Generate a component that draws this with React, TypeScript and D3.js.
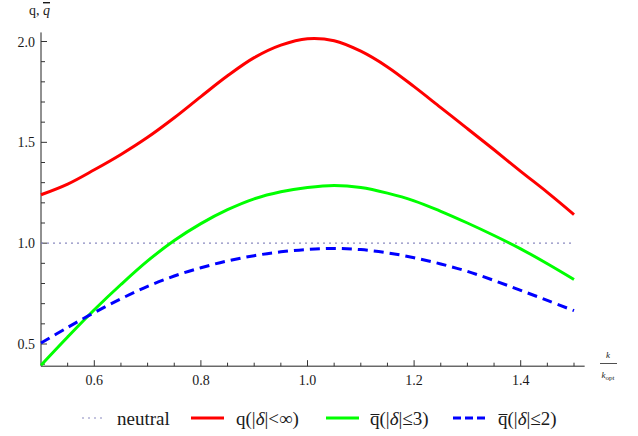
import { useEffect, useRef } from 'react';
import * as d3 from 'd3';

// k / k_opt sample points
const ratio = [0.5, 0.55, 0.6, 0.65, 0.7, 0.75, 0.8, 0.85, 0.9, 0.95, 1.0, 1.05, 1.1, 1.15, 1.2, 1.25, 1.3, 1.35, 1.4, 1.45, 1.5];
// q(|δ|<∞)
const qInf = [1.24, 1.293, 1.364, 1.44, 1.525, 1.622, 1.727, 1.83, 1.92, 1.982, 2.014, 2.004, 1.952, 1.874, 1.776, 1.672, 1.568, 1.463, 1.356, 1.252, 1.142];
// q̄(|δ|≤3)
const qBar3 = [0.395, 0.535, 0.67, 0.795, 0.912, 1.013, 1.097, 1.166, 1.22, 1.255, 1.276, 1.286, 1.276, 1.248, 1.21, 1.158, 1.1, 1.038, 0.972, 0.898, 0.82];
// q̄(|δ|≤2)
const qBar2 = [0.505, 0.582, 0.656, 0.724, 0.786, 0.837, 0.878, 0.912, 0.938, 0.957, 0.969, 0.974, 0.968, 0.952, 0.928, 0.897, 0.86, 0.815, 0.766, 0.716, 0.665];
const neutral = [1.0, 1.0];
const neutralX = [0.5, 1.5];

const xTicks = [0.6, 0.8, 1.0, 1.2, 1.4];
const yTicks = [0.5, 1.0, 1.5, 2.0];

const FONT = 'Liberation Serif';

const App = () => {
  const svgRef = useRef<SVGSVGElement>(null);

  useEffect(() => {
    const width = 638;
    const height = 436;
    const svg = d3.select(svgRef.current);
    svg.selectAll('*').remove();
    svg.attr('width', width).attr('height', height);

    const x = d3.scaleLinear().domain([0.5, 1.5]).range([41, 574]);
    const y = d3.scaleLinear().domain([0.5, 2.0]).range([344, 41.5]);

    const axisY = y(0.39);
    const g = svg.append('g');
    const txt = (parent, x0, y0, size) =>
      parent.append('text')
        .attr('x', x0).attr('y', y0)
        .attr('font-family', FONT)
        .attr('font-size', size)
        .attr('fill', '#1a1a1a');

    // axes
    g.append('line')
      .attr('x1', x(0.5)).attr('x2', x(1.52))
      .attr('y1', axisY).attr('y2', axisY)
      .attr('stroke', '#222').attr('stroke-width', 1);
    g.append('line')
      .attr('x1', x(0.5)).attr('x2', x(0.5))
      .attr('y1', axisY).attr('y2', y(2.045))
      .attr('stroke', '#222').attr('stroke-width', 1);

    // x ticks
    const xMinor = d3.range(0.55, 1.501, 0.05);
    g.selectAll('.xt')
      .data(xMinor)
      .enter()
      .append('line')
      .attr('x1', d => x(d)).attr('x2', d => x(d))
      .attr('y1', axisY)
      .attr('y2', d => axisY - (xTicks.some(t => Math.abs(t - d) < 1e-6) ? 6 : 3.5))
      .attr('stroke', '#333').attr('stroke-width', 1);
    xTicks.forEach(d => {
      txt(g, x(d), axisY + 19, 14).attr('text-anchor', 'middle').text(d.toFixed(1));
    });

    // y ticks
    const yMinor = d3.range(0.4, 2.001, 0.1);
    g.selectAll('.yt')
      .data(yMinor)
      .enter()
      .append('line')
      .attr('x1', x(0.5))
      .attr('x2', d => x(0.5) + (yTicks.some(t => Math.abs(t - d) < 1e-6) ? 6 : 4))
      .attr('y1', d => y(d)).attr('y2', d => y(d))
      .attr('stroke', '#333').attr('stroke-width', 1);
    yTicks.forEach(d => {
      txt(g, x(0.5) - 6, y(d) + 5, 14).attr('text-anchor', 'end').text(d.toFixed(1));
    });

    // y label: q, q̄
    const yl = txt(g, 29, 15, 14);
    yl.append('tspan').text('q, ');
    yl.append('tspan').attr('font-style', 'italic').style('text-decoration', 'overline').text('q');

    // x label: k / k_opt
    txt(g, 608, 358, 9).attr('text-anchor', 'middle').attr('font-style', 'italic').text('k');
    g.append('line')
      .attr('x1', 600).attr('x2', 617).attr('y1', 363.5).attr('y2', 363.5)
      .attr('stroke', '#222').attr('stroke-width', 0.8);
    const kopt = txt(g, 608, 378, 9).attr('text-anchor', 'middle');
    kopt.append('tspan').attr('font-style', 'italic').text('k');
    kopt.append('tspan').attr('dy', 2).attr('font-size', 7).text('opt');

    // curves
    const line = d3.line<[number, number]>()
      .x(d => x(d[0]))
      .y(d => y(d[1]))
      .curve(d3.curveCatmullRom.alpha(0.5));

    g.append('path')
      .attr('d', line(neutralX.map((v, i) => [v, neutral[i]])))
      .attr('fill', 'none').attr('stroke', '#8a8ac0').attr('stroke-width', 1.2)
      .attr('stroke-dasharray', '2,4');

    const series = [
      { values: qInf, color: '#ff0000', dash: null },
      { values: qBar3, color: '#00ff00', dash: null },
      { values: qBar2, color: '#0000ff', dash: '10,6' },
    ];
    series.forEach(s => {
      g.append('path')
        .attr('d', line(ratio.map((v, i) => [v, s.values[i]])))
        .attr('fill', 'none')
        .attr('stroke', s.color)
        .attr('stroke-width', 3)
        .attr('stroke-dasharray', s.dash);
    });

    // legend
    const ly = 418;
    const lt = 424.5;
    const fs = 19;
    const legend = g.append('g');
    const addText = (x0, bar, rest) => {
      const t = txt(legend, x0, lt, fs);
      t.append('tspan').text('q');
      t.append('tspan').text('(|');
      t.append('tspan').attr('font-style', 'italic').text('δ');
      t.append('tspan').text(rest);
      if (bar) {
        legend.append('line')
          .attr('x1', x0 + 0.5).attr('x2', x0 + fs * 0.5)
          .attr('y1', lt - 10).attr('y2', lt - 10)
          .attr('stroke', '#1a1a1a').attr('stroke-width', 1);
      }
    };

    legend.append('line')
      .attr('x1', 82).attr('x2', 102).attr('y1', ly).attr('y2', ly)
      .attr('stroke', '#8a8ac0').attr('stroke-width', 1.2).attr('stroke-dasharray', '2,4');
    txt(legend, 117, lt, fs).text('neutral');

    legend.append('line')
      .attr('x1', 191).attr('x2', 224).attr('y1', ly).attr('y2', ly)
      .attr('stroke', '#ff0000').attr('stroke-width', 3);
    addText(236, false, '|<∞)');

    legend.append('line')
      .attr('x1', 326).attr('x2', 359).attr('y1', ly).attr('y2', ly)
      .attr('stroke', '#00ff00').attr('stroke-width', 3);
    addText(370, true, '|≤3)');

    legend.append('line')
      .attr('x1', 453).attr('x2', 487).attr('y1', ly).attr('y2', ly)
      .attr('stroke', '#0000ff').attr('stroke-width', 3).attr('stroke-dasharray', '8,4');
    addText(498, true, '|≤2)');
  }, []);

  return (
    <div style={{ position: 'absolute', left: 0, top: 0, background: '#fff' }}>
      <svg ref={svgRef} style={{ display: 'block' }} />
    </div>
  );
};

export default App;
